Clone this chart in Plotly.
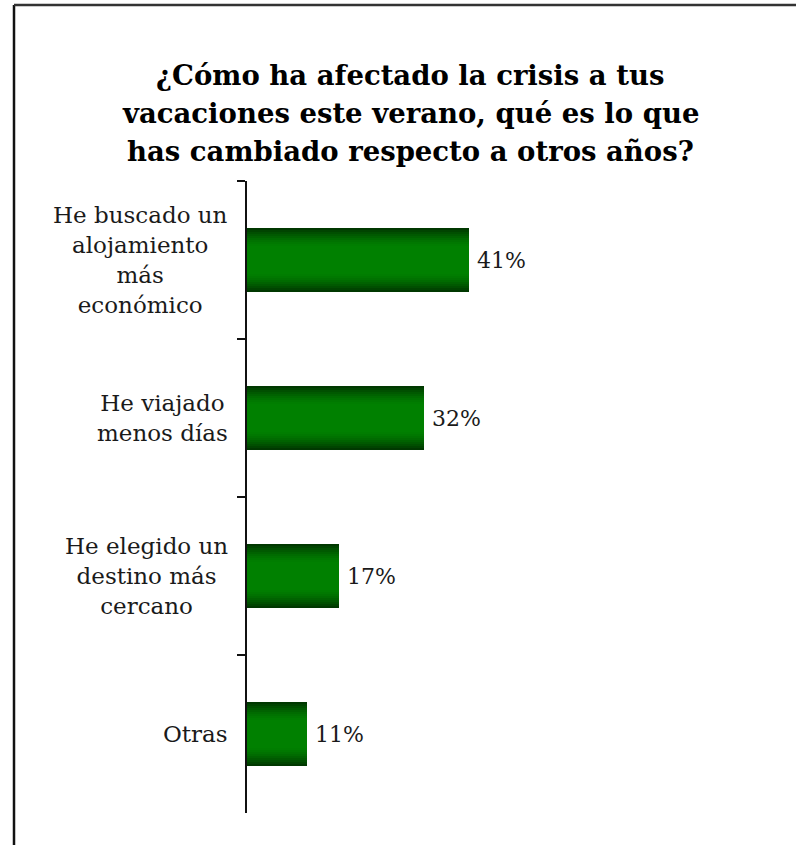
import plotly.graph_objects as go

title_lines = ["¿Cómo ha afectado la crisis a tus",
               "vacaciones este verano, qué es lo que",
               "has cambiado respecto a otros años?"]
categories = ["He buscado un<br>alojamiento<br>más<br>económico",
              "He viajado<br>menos días",
              "He elegido un<br>destino más<br>cercano",
              "Otras"]
values = [41, 32.6, 17, 11]
value_labels = ["41%", "32%", "17%", "11%"]

W, H = 796, 845
L, T, B, R = 247, 181, 32, 20
plot_w = W - L - R
plot_h = H - T - B
px_per_unit = 5.42
xmax = plot_w / px_per_unit

fig = go.Figure()

bar_w = 0.405
n_layers = 16
dark = (0, 56, 0)
bright = (0, 128, 0)
for k in range(n_layers):
    f = 1 - k / n_layers
    t = min(1.0, k / 9)
    t = 1 - (1 - t) ** 1.5
    col = "rgb(%d,%d,%d)" % tuple(round(d + (b - d) * t) for d, b in zip(dark, bright))
    fig.add_trace(go.Bar(
        y=categories, x=values, orientation="h",
        width=bar_w * f,
        marker=dict(color=col, line=dict(width=0)),
        hoverinfo="skip",
        showlegend=False,
    ))

# centered multi-line category labels
for c in categories:
    fig.add_annotation(
        x=0, xref="x", y=c, yref="y",
        text=c, showarrow=False,
        xanchor="right", xshift=-17, align="center",
        font=dict(family="DejaVu Serif", size=23, color="#1a1a1a"),
    )

# value labels
for c, v, lab in zip(categories, values, value_labels):
    fig.add_annotation(
        x=v, xref="x", y=c, yref="y",
        text=lab, showarrow=False,
        xanchor="left", xshift=6,
        font=dict(family="DejaVu Serif", size=22, color="#1a1a1a"),
    )

# title lines
title_y = [75, 113, 151]
title_cx = 410
for line, yy in zip(title_lines, title_y):
    fig.add_annotation(
        x=(title_cx - L) / plot_w, xref="paper",
        y=1 + (T - yy) / plot_h, yref="paper",
        xanchor="center", yanchor="middle", showarrow=False,
        text="<b>%s</b>" % line,
        font=dict(family="DejaVu Serif", size=27.5, color="black"),
    )

# outer frame (left and top edges)
x_left = (14 - L) / plot_w
y_top = 1 + (T - 5) / plot_h
fig.add_shape(type="line", xref="paper", yref="paper",
              x0=x_left, x1=x_left, y0=y_top, y1=-0.2,
              line=dict(color="#111111", width=2.5))
fig.add_shape(type="line", xref="paper", yref="paper",
              x0=x_left, x1=1.2, y0=y_top, y1=y_top,
              line=dict(color="#333333", width=2.5))

fig.update_layout(
    width=W, height=H,
    margin=dict(l=L, r=R, t=T, b=B),
    barmode="overlay",
    bargap=0,
    paper_bgcolor="white", plot_bgcolor="white",
    hovermode=False,
    xaxis=dict(range=[0, xmax], visible=False, fixedrange=True),
    yaxis=dict(autorange=False, range=[3.5, -0.5], type="category",
               showticklabels=False, ticks="outside", ticklen=8, tickwidth=2,
               tickcolor="#111111", tickson="boundaries",
               showline=True, linecolor="#111111", linewidth=2,
               showgrid=False, zeroline=False, fixedrange=True),
)

fig.write_html("out.html", config={"displayModeBar": False},
               post_script="document.body.style.margin='0px';")
